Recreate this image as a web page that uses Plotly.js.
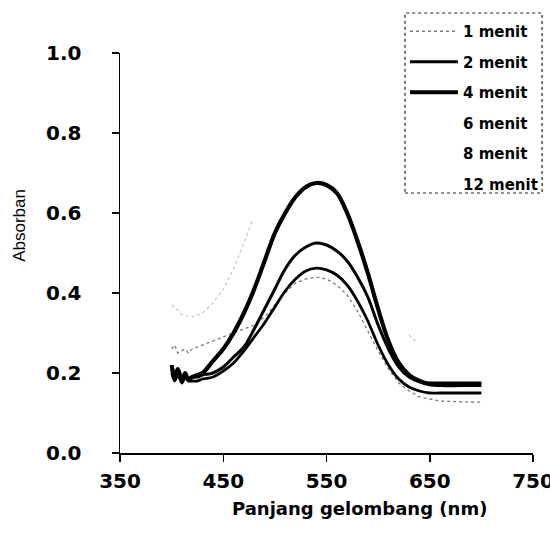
<!DOCTYPE html>
<html>
<head>
<meta charset="utf-8">
<script src="https://cdn.plot.ly/plotly-3.0.1.min.js"></script>
<style>html,body{margin:0;padding:0;background:#fff;}#chart{width:550px;height:547px;}</style>
</head>
<body>
<div id="chart"></div>
<script>
// Wavelength grid (nm)
var wl = [400, 403, 406, 410, 413, 416, 420, 425, 430, 440, 450, 460, 470, 480, 490, 500, 510, 520, 530, 540, 550, 560, 570, 580, 590, 600, 610, 620, 630, 640, 650, 660, 680, 700];

// 1 menit (thin grey, dotted in the scan)
var a1 = [0.26, 0.27, 0.25, 0.255, 0.26, 0.25, 0.26, 0.265, 0.27, 0.28, 0.29, 0.30, 0.31, 0.32, 0.34, 0.37, 0.40, 0.425, 0.435, 0.44, 0.435, 0.42, 0.395, 0.355, 0.305, 0.255, 0.21, 0.175, 0.155, 0.14, 0.135, 0.13, 0.128, 0.127];
// 2 menit (medium line)
var a2 = [0.21, 0.185, 0.20, 0.18, 0.195, 0.185, 0.19, 0.19, 0.195, 0.20, 0.215, 0.24, 0.265, 0.31, 0.36, 0.41, 0.46, 0.495, 0.515, 0.525, 0.52, 0.505, 0.48, 0.44, 0.39, 0.32, 0.26, 0.215, 0.19, 0.178, 0.175, 0.175, 0.175, 0.175];
// 4 menit (thick line)
var a4 = [0.22, 0.19, 0.21, 0.18, 0.20, 0.185, 0.19, 0.195, 0.20, 0.23, 0.26, 0.30, 0.35, 0.41, 0.48, 0.55, 0.60, 0.64, 0.665, 0.675, 0.67, 0.65, 0.60, 0.53, 0.45, 0.36, 0.28, 0.225, 0.195, 0.18, 0.172, 0.17, 0.17, 0.17];
// 6 menit (solid curve without legend swatch in the scan)
var a6 = [0.20, 0.18, 0.195, 0.175, 0.19, 0.18, 0.18, 0.18, 0.185, 0.19, 0.205, 0.225, 0.255, 0.29, 0.325, 0.365, 0.405, 0.435, 0.455, 0.462, 0.458, 0.445, 0.42, 0.38, 0.33, 0.27, 0.22, 0.185, 0.165, 0.155, 0.15, 0.15, 0.15, 0.15];
// 8 menit (only faint fragments visible)
var wl8 = [400, 405, 410, 420, 430, 440, 450, 460, 470, 478, null, 630, 636];
var a8 = [0.37, 0.36, 0.345, 0.34, 0.35, 0.375, 0.41, 0.46, 0.525, 0.58, null, 0.295, 0.28];

var seriesNames = ["1 menit", "2 menit", "4 menit", "6 menit", "8 menit", "12 menit"];
var xTicks = [350, 450, 550, 650, 750];
var yTicks = [0.0, 0.2, 0.4, 0.6, 0.8, 1.0];

var clear = 'rgba(0,0,0,0)';
var traces = [
  {x: wl, y: a1, name: seriesNames[0], legendgroup: 'g1', mode: 'lines', line: {color: '#7a7a7a', width: 1.3, dash: 'dot'}},
  {x: wl, y: a2, name: seriesNames[1], legendgroup: 'g2', mode: 'lines', line: {color: '#000', width: 3, shape: 'spline'}},
  {x: wl, y: a4, name: seriesNames[2], legendgroup: 'g4', mode: 'lines', line: {color: '#000', width: 4.2, shape: 'spline'}},
  {x: [null], y: [null], name: seriesNames[3], legendgroup: 'g6', mode: 'lines', line: {color: clear, width: 1}},
  {x: [null], y: [null], name: seriesNames[4], legendgroup: 'g8', mode: 'lines', line: {color: clear, width: 1}},
  {x: [null], y: [null], name: seriesNames[5], legendgroup: 'g12', mode: 'lines', line: {color: clear, width: 1}},
  {x: wl, y: a6, name: seriesNames[3], legendgroup: 'g6', showlegend: false, mode: 'lines', line: {color: '#000', width: 2.8, shape: 'spline'}},
  {x: wl8, y: a8, name: seriesNames[4], legendgroup: 'g8', showlegend: false, mode: 'lines', connectgaps: false, line: {color: '#bdbdbd', width: 1.1, dash: 'dot'}}
];

var tickFont = {family: 'DejaVu Sans', size: 20, color: '#000', weight: 'bold'};
var layout = {
  width: 550, height: 547,
  margin: {l: 120, r: 17, t: 53, b: 94, autoexpand: false},
  paper_bgcolor: '#fff', plot_bgcolor: '#fff',
  showlegend: true,
  xaxis: {
    range: [350, 750], tickvals: xTicks, ticktext: xTicks.map(String),
    showgrid: false, zeroline: false, showline: true, linecolor: '#000', linewidth: 1.5,
    ticks: 'outside', ticklen: 7, tickwidth: 1.5, tickcolor: '#000',
    tickfont: tickFont, ticklabelstandoff: 2, ticklabeloverflow: 'allow', automargin: false, fixedrange: true
  },
  yaxis: {
    range: [0, 1], tickvals: yTicks, ticktext: yTicks.map(function (v) { return v.toFixed(1); }),
    showgrid: false, zeroline: false, showline: true, linecolor: '#000', linewidth: 1.5,
    ticks: 'outside', ticklen: 7, tickwidth: 1.5, tickcolor: '#000',
    tickfont: tickFont, ticklabelstandoff: 26, automargin: false, fixedrange: true
  },
  legend: {
    x: 0.69, y: 1.095, xanchor: 'left', yanchor: 'top',
    bgcolor: 'rgba(255,255,255,0)', borderwidth: 0,
    traceorder: 'grouped', tracegroupgap: 8,
    font: {family: 'DejaVu Sans', size: 15, color: '#000', weight: 'bold'},
    itemwidth: 48
  },
  shapes: [{
    type: 'rect', xref: 'paper', yref: 'paper',
    x0: 0.69, x1: 1.022, y0: 0.65, y1: 1.1,
    line: {color: '#222', width: 1.2, dash: 'dot'}, fillcolor: clear
  }],
  annotations: [
    {text: 'Absorban', xref: 'paper', yref: 'paper', x: -0.245, y: 0.57, xanchor: 'center', yanchor: 'middle', textangle: -90,
     showarrow: false, font: {family: 'Liberation Sans', size: 17, color: '#000'}},
    {text: 'Panjang gelombang (nm)', xref: 'paper', yref: 'paper', x: 0.581, y: -0.1375, xanchor: 'center', yanchor: 'middle',
     showarrow: false, font: {family: 'DejaVu Sans', size: 18, color: '#000', weight: 'bold'}}
  ]
};

Plotly.newPlot('chart', traces, layout, {displayModeBar: false, staticPlot: true});
</script>
</body>
</html>
